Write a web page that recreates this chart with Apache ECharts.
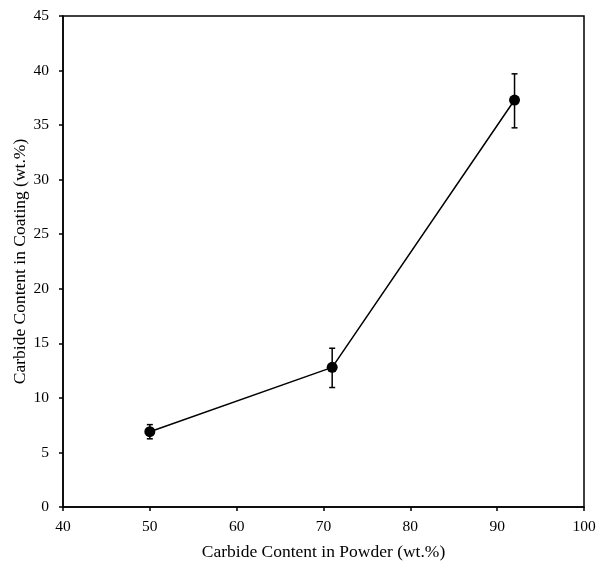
<!DOCTYPE html>
<html>
<head>
<meta charset="utf-8">
<script src="https://cdn.jsdelivr.net/npm/echarts@6/dist/echarts.min.js"></script>
<style>
  html, body { margin: 0; padding: 0; background: #fff; }
  #chart { width: 597px; height: 563px; }
</style>
</head>
<body>
<div id="chart"></div>
<script>
// values
const powderContent = [50, 71, 92];
const coatingContent = [6.9, 12.8, 37.3];
const errorLow = [6.25, 10.95, 34.75];
const errorHigh = [7.55, 14.55, 39.7];

const FONT = '"Liberation Serif", "Times New Roman", serif';

const chart = echarts.init(document.getElementById('chart'));

const errorData = powderContent.map((x, i) => [x, errorLow[i], errorHigh[i]]);

chart.setOption({
  animation: false,
  grid: {
    left: 63,
    right: 13,
    top: 16,
    bottom: 56,
    containLabel: false,
    outerBoundsMode: 'none',
    show: true,
    borderColor: '#000',
    borderWidth: 1.5,
  },
  xAxis: {
    type: 'value',
    min: 40,
    max: 100,
    interval: 10,
    name: 'Carbide Content in Powder (wt.%)',
    nameLocation: 'middle',
    nameGap: 36,
    nameMoveOverlap: false,
    nameTextStyle: { fontFamily: FONT, fontSize: 17.5, color: '#000' },
    axisLine: { show: true, lineStyle: { color: '#000', width: 1.5 } },
    axisTick: { show: true, inside: false, length: 4, lineStyle: { color: '#000', width: 1.5 } },
    axisLabel: { fontFamily: FONT, fontSize: 15.5, color: '#000', margin: 12 },
    splitLine: { show: false },
  },
  yAxis: {
    type: 'value',
    min: 0,
    max: 45,
    interval: 5,
    name: 'Carbide Content in Coating (wt.%)',
    nameLocation: 'middle',
    nameGap: 34,
    nameMoveOverlap: false,
    nameTextStyle: { fontFamily: FONT, fontSize: 17.5, color: '#000' },
    axisLine: { show: true, lineStyle: { color: '#000', width: 1.5 } },
    axisTick: { show: true, inside: false, length: 4, lineStyle: { color: '#000', width: 1.5 } },
    axisLabel: { fontFamily: FONT, fontSize: 15.5, color: '#000', margin: 14 },
    splitLine: { show: false },
  },
  series: [
    {
      type: 'line',
      data: powderContent.map((x, i) => [x, coatingContent[i]]),
      symbol: 'circle',
      symbolSize: 11,
      itemStyle: { color: '#000' },
      lineStyle: { color: '#000', width: 1.5 },
      z: 3,
    },
    {
      type: 'custom',
      data: errorData,
      z: 4,
      renderItem: (params, api) => {
        const x = api.value(0);
        const lo = api.coord([x, api.value(1)]);
        const hi = api.coord([x, api.value(2)]);
        const half = 3;
        const style = { stroke: '#000', lineWidth: 1.5 };
        return {
          type: 'group',
          children: [
            { type: 'line', shape: { x1: lo[0], y1: lo[1], x2: hi[0], y2: hi[1] }, style },
            { type: 'line', shape: { x1: lo[0] - half, y1: lo[1], x2: lo[0] + half, y2: lo[1] }, style },
            { type: 'line', shape: { x1: hi[0] - half, y1: hi[1], x2: hi[0] + half, y2: hi[1] }, style },
          ],
        };
      },
    },
  ],
});
</script>
</body>
</html>
